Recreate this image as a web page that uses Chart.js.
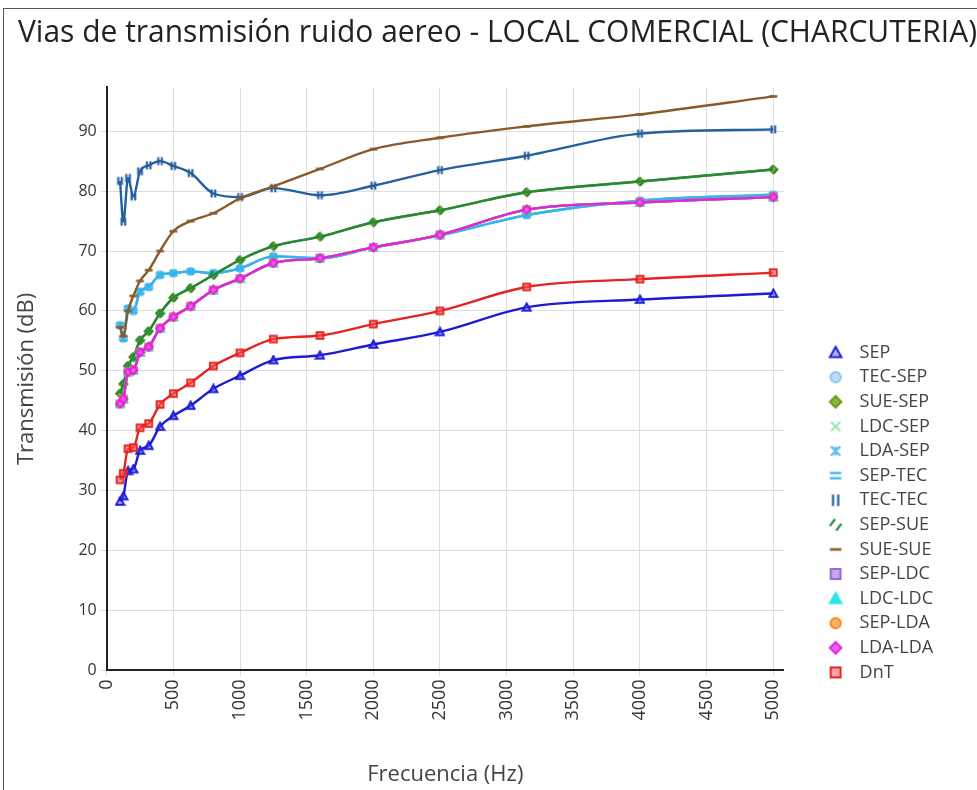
<!DOCTYPE html>
<html>
<head>
<meta charset="utf-8">
<script src="https://cdn.jsdelivr.net/npm/chart.js@4"></script>
<style>
  html, body { margin: 0; padding: 0; background: #fff; }
  #frame { position: absolute; left: 3px; top: 8px; width: 1100px; height: 900px; border: 1px solid #555; }
  #wrap { position: absolute; left: 0; top: 0; width: 977px; height: 790px; }
</style>
</head>
<body>
<div id="frame"></div>
<div id="wrap"><canvas id="chart"></canvas></div>
<script>
/* =====================================================
   Data
===================================================== */
const freqs = [100, 125, 160, 200, 250, 315, 400, 500, 630, 800, 1000, 1250, 1600, 2000, 2500, 3150, 4000, 5000];

const sep    = [28.2, 29.1, 33.3, 33.6, 36.7, 37.5, 40.7, 42.5, 44.2, 47.0, 49.2, 51.8, 52.6, 54.4, 56.5, 60.6, 61.9, 62.9];
const tecSep = [57.6, 55.4, 60.4, 60.0, 63.2, 64.0, 66.0, 66.3, 66.6, 66.3, 67.1, 69.1, 68.8, 70.6, 72.6, 76.0, 78.4, 79.4];
const sueSep = [46.2, 47.8, 50.8, 52.3, 55.1, 56.6, 59.6, 62.2, 63.8, 66.0, 68.5, 70.8, 72.4, 74.8, 76.8, 79.8, 81.6, 83.6];
const ldcSep = [44.5, 45.3, 49.8, 50.1, 53.1, 54.0, 57.1, 59.0, 60.8, 63.5, 65.4, 68.0, 68.8, 70.6, 72.7, 76.9, 78.1, 79.0];
const ldaSep = tecSep;
const sepTec = tecSep;
const tecTec = [81.7, 74.9, 82.2, 79.1, 83.3, 84.3, 85.0, 84.2, 83.0, 79.6, 79.0, 80.5, 79.3, 80.9, 83.5, 85.9, 89.6, 90.3];
const sepSue = sueSep;
const sueSue = [57.3, 55.8, 60.0, 62.5, 65.0, 66.8, 70.0, 73.3, 75.0, 76.3, 78.8, 80.8, 83.7, 87.0, 88.9, 90.8, 92.8, 95.8];
const sepLdc = ldcSep;
const ldcLdc = ldcSep;
const sepLda = ldcSep;
const ldaLda = ldcSep;
const dnt    = [31.8, 32.9, 37.0, 37.2, 40.5, 41.2, 44.4, 46.2, 48.0, 50.8, 53.0, 55.3, 55.9, 57.8, 60.0, 64.0, 65.3, 66.4];

const xTicks = [0, 500, 1000, 1500, 2000, 2500, 3000, 3500, 4000, 4500, 5000];
const yTicks = [0, 10, 20, 30, 40, 50, 60, 70, 80, 90];

/* =====================================================
   Marker icons (canvas point styles)
===================================================== */
function icon(kind, stroke, fill, size) {
  const c = document.createElement('canvas');
  const s = size || 16;
  c.width = s; c.height = s;
  const ctx = c.getContext('2d');
  const m = s / 2, r = s * 0.36;
  ctx.strokeStyle = stroke; ctx.fillStyle = fill;
  ctx.lineWidth = 2; ctx.lineCap = 'butt';
  ctx.beginPath();
  switch (kind) {
    case 'triangle':
      ctx.moveTo(m, m - r); ctx.lineTo(m + r, m + r * 0.8); ctx.lineTo(m - r, m + r * 0.8); ctx.closePath();
      ctx.fill(); ctx.stroke(); break;
    case 'circle':
      ctx.arc(m, m, r * 0.9, 0, Math.PI * 2); ctx.fill(); ctx.stroke(); break;
    case 'rectRot':
      ctx.moveTo(m, m - r); ctx.lineTo(m + r, m); ctx.lineTo(m, m + r); ctx.lineTo(m - r, m); ctx.closePath();
      ctx.fill(); ctx.stroke(); break;
    case 'rect':
      ctx.rect(m - r * 0.85, m - r * 0.85, r * 1.7, r * 1.7); ctx.fill(); ctx.stroke(); break;
    case 'crossRot':
      ctx.moveTo(m - r * 0.8, m - r * 0.8); ctx.lineTo(m + r * 0.8, m + r * 0.8);
      ctx.moveTo(m + r * 0.8, m - r * 0.8); ctx.lineTo(m - r * 0.8, m + r * 0.8); ctx.stroke(); break;
    case 'star':
      ctx.lineWidth = 2.4;
      ctx.moveTo(m - r * 0.8, m - r * 0.8); ctx.lineTo(m + r * 0.8, m + r * 0.8);
      ctx.moveTo(m + r * 0.8, m - r * 0.8); ctx.lineTo(m - r * 0.8, m + r * 0.8);
      ctx.moveTo(m, m - r * 0.8); ctx.lineTo(m, m + r * 0.8); ctx.stroke(); break;
    case 'eq':
      ctx.lineWidth = 2.2;
      ctx.moveTo(m - r, m - r * 0.45); ctx.lineTo(m + r, m - r * 0.45);
      ctx.moveTo(m - r, m + r * 0.45); ctx.lineTo(m + r, m + r * 0.45); ctx.stroke(); break;
    case 'bars':
      ctx.lineWidth = 2.2;
      ctx.moveTo(m - r * 0.45, m - r); ctx.lineTo(m - r * 0.45, m + r);
      ctx.moveTo(m + r * 0.45, m - r); ctx.lineTo(m + r * 0.45, m + r); ctx.stroke(); break;
    case 'slash':
      ctx.lineWidth = 2.2;
      ctx.moveTo(m - r, m + r * 0.2); ctx.lineTo(m - r * 0.1, m - r);
      ctx.moveTo(m + r * 0.1, m + r); ctx.lineTo(m + r, m - r * 0.2); ctx.stroke(); break;
    case 'dash':
      ctx.lineWidth = 2.6;
      ctx.moveTo(m - r, m); ctx.lineTo(m + r, m); ctx.stroke(); break;
  }
  return c;
}

/* =====================================================
   Series
===================================================== */
const series = [
  { label: 'SEP',     data: sep,    color: '#1c1cd6', fill: 'rgba(90,90,255,0.45)', marker: 'triangle' },
  { label: 'TEC-SEP', data: tecSep, color: '#8cc6f2', fill: '#bcdcf8',              marker: 'circle' },
  { label: 'SUE-SEP', data: sueSep, color: '#6c9a1e', fill: '#8cb83c',              marker: 'rectRot' },
  { label: 'LDC-SEP', data: ldcSep, color: '#8ee6a2', fill: '#8ee6a2',              marker: 'crossRot' },
  { label: 'LDA-SEP', data: ldaSep, color: '#62c4ea', fill: '#62c4ea',              marker: 'star' },
  { label: 'SEP-TEC', data: sepTec, color: '#34b6ea', fill: '#34b6ea',              marker: 'eq' },
  { label: 'TEC-TEC', data: tecTec, color: '#245f9e', fill: '#245f9e',              marker: 'bars' },
  { label: 'SEP-SUE', data: sepSue, color: '#25893a', fill: '#25893a',              marker: 'slash' },
  { label: 'SUE-SUE', data: sueSue, color: '#8a5a2a', fill: '#8a5a2a',              marker: 'dash' },
  { label: 'SEP-LDC', data: sepLdc, color: '#9a6ad0', fill: '#c4a6ea',              marker: 'rect' },
  { label: 'LDC-LDC', data: ldcLdc, color: '#2ee6e6', fill: '#2ee6e6',              marker: 'triangle' },
  { label: 'SEP-LDA', data: sepLda, color: '#f08c22', fill: '#f8b466',              marker: 'circle' },
  { label: 'LDA-LDA', data: ldaLda, color: '#e024e0', fill: '#f060f0',              marker: 'rectRot' },
  { label: 'DnT',     data: dnt,    color: '#e62222', fill: 'rgba(245,90,90,0.55)', marker: 'rect' }
];

const datasets = series.map((s, i) => ({
  label: s.label,
  data: freqs.map((f, k) => ({ x: f, y: s.data[k] })),
  borderColor: s.color,
  backgroundColor: s.fill,
  borderWidth: 2.4,
  pointStyle: icon(s.marker, s.color, s.fill, 11),
  pointRadius: 4,
  pointBorderColor: s.color,
  pointBackgroundColor: s.fill,
  cubicInterpolationMode: 'monotone',
  order: series.length - i,
  legendIcon: icon(s.marker, s.color, s.fill, 16)
}));

/* =====================================================
   Legend placement (right column, lower half) and a
   full-width title box
===================================================== */
const boxPlace = {
  id: 'boxPlace',
  afterLayout(chart) {
    const l = chart.legend;
    const w = l.right - l.left, h = l.bottom - l.top;
    l.left = 814; l.right = 814 + w;
    l.top = 337; l.bottom = 337 + h;
    const t = chart.titleBlock;
    t.right = chart.width;
    t.width = t.right - t.left;
  }
};

const FONT = "'Open Sans', 'Noto Sans', sans-serif";

new Chart(document.getElementById('chart'), {
  type: 'line',
  data: { datasets },
  plugins: [boxPlace],
  options: {
    responsive: true,
    maintainAspectRatio: false,
    animation: false,
    layout: { padding: { left: 18, right: 64, top: 0, bottom: 2 } },
    plugins: {
      title: {
        display: true,
        text: 'Vias de transmisión ruido aereo - LOCAL COMERCIAL (CHARCUTERIA)',
        align: 'start',
        color: '#222',
        font: { family: FONT, size: 31.2, weight: 'normal' },
        padding: { top: 14, bottom: 36 }
      },
      legend: {
        position: 'right',
        align: 'start',
        reverse: true,
        labels: {
          usePointStyle: true,
          pointStyleWidth: 30,
          boxHeight: 10,
          padding: 6.6,
          color: '#444',
          font: { family: FONT, size: 18 },
          generateLabels(chart) {
            const items = Chart.defaults.plugins.legend.labels.generateLabels(chart);
            items.forEach(it => { it.pointStyle = chart.data.datasets[it.datasetIndex].legendIcon; });
            return items;
          }
        }
      },
      tooltip: { enabled: false }
    },
    scales: {
      x: {
        type: 'linear',
        min: 0,
        max: 5080,
        afterBuildTicks: axis => { axis.ticks = xTicks.map(v => ({ value: v })); },
        ticks: {
          minRotation: 90, maxRotation: 90, padding: 4,
          color: '#333', font: { family: FONT, size: 18 },
          callback: v => String(v)
        },
        grid: { color: '#dddddd', lineWidth: 1, tickLength: 5 },
        border: { display: true, color: '#222', width: 2 },
        title: {
          display: true, text: 'Frecuencia (Hz)', color: '#444',
          font: { family: FONT, size: 22 }, padding: { top: 37, bottom: 0 }
        }
      },
      y: {
        type: 'linear',
        min: 0,
        max: 97.3,
        afterBuildTicks: axis => { axis.ticks = yTicks.map(v => ({ value: v })); },
        ticks: { color: '#333', padding: 4, font: { family: FONT, size: 16 }, callback: v => String(v) },
        grid: { color: '#dddddd', lineWidth: 1, tickLength: 6 },
        border: { display: true, color: '#222', width: 2 },
        title: {
          display: true, text: 'Transmisión (dB)', color: '#444',
          font: { family: FONT, size: 22 }, padding: { top: -4, bottom: 34 }
        }
      }
    }
  }
});
</script>
</body>
</html>
